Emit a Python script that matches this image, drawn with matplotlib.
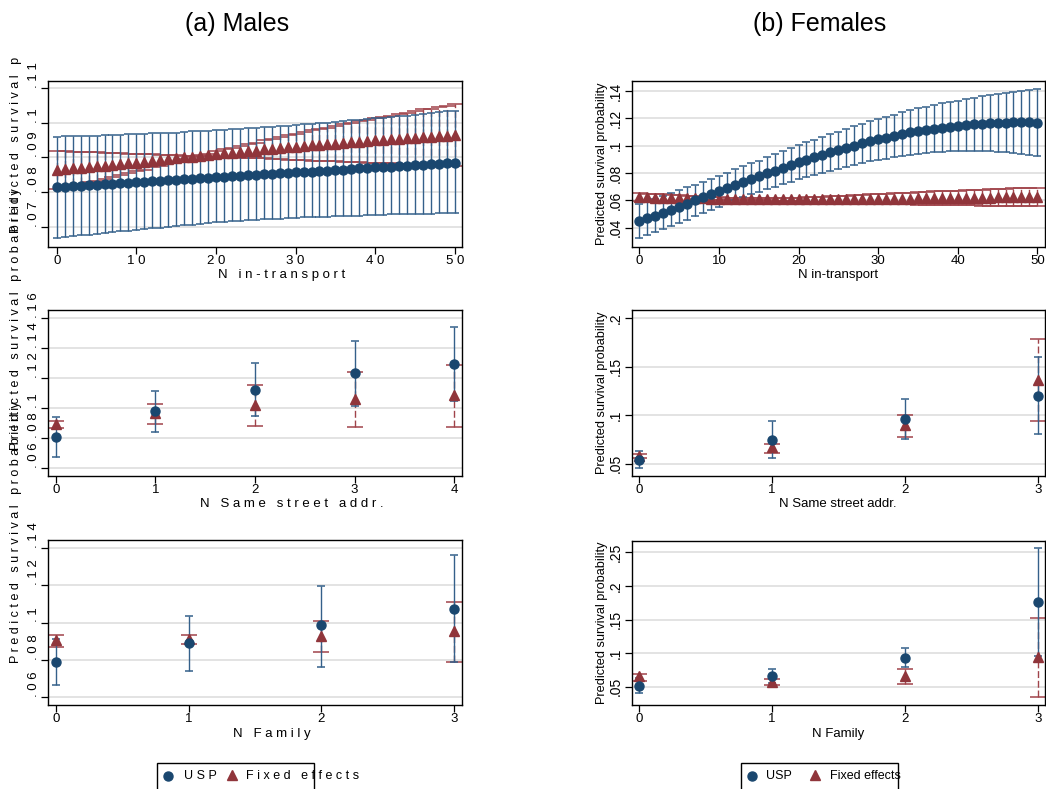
import matplotlib
matplotlib.use('Agg')
import matplotlib.pyplot as plt
from matplotlib.patches import Rectangle
from matplotlib.lines import Line2D
from matplotlib.transforms import Bbox, TransformedBbox

plt.rcParams['font.family'] = ['Liberation Sans', 'DejaVu Sans']

W, H = 1046, 789
USP_C, USP_CI = '#1a476f', '#34608a'
FE_C, FE_CI = '#90353b', '#a0434a'

# ---- Males, N in-transport (0..50)
n_tr = list(range(51))
m_tr_usp = [.0814, .0815, .0817, .0818, .0820, .0821, .0823, .0824, .0825, .0827,
            .0828, .0830, .0831, .0833, .0834, .0835, .0837, .0838, .0840, .0841,
            .0842, .0844, .0845, .0847, .0848, .0850, .0851, .0852, .0854, .0855,
            .0857, .0858, .0859, .0861, .0862, .0864, .0865, .0866, .0868, .0869,
            .0871, .0872, .0873, .0875, .0876, .0878, .0879, .0880, .0882, .0883, .0885]
m_tr_usp_hi = [.0960, .0961, .0961, .0962, .0963, .0963, .0964, .0965, .0966, .0967,
               .0968, .0969, .0970, .0970, .0971, .0972, .0973, .0975, .0976, .0977,
               .0978, .0980, .0981, .0983, .0984, .0986, .0987, .0989, .0990, .0992,
               .0994, .0996, .0997, .0999, .1001, .1003, .1005, .1007, .1009, .1011,
               .1013, .1015, .1017, .1019, .1021, .1023, .1026, .1028, .1030, .1033, .1035]
m_tr_usp_lo = [.0668, .0670, .0672, .0675, .0677, .0679, .0681, .0683, .0686, .0688,
               .0690, .0692, .0695, .0697, .0699, .0701, .0704, .0706, .0708, .0711,
               .0713, .0714, .0716, .0717, .0718, .0720, .0721, .0722, .0723, .0725,
               .0726, .0727, .0728, .0728, .0729, .0730, .0731, .0732, .0732, .0733,
               .0734, .0734, .0735, .0735, .0736, .0736, .0737, .0737, .0738, .0738, .0739]
m_tr_fe = [.0864, .0866, .0868, .0870, .0872, .0874, .0876, .0878, .0880, .0883,
           .0885, .0887, .0890, .0892, .0895, .0897, .0900, .0902, .0905, .0907,
           .0910, .0912, .0914, .0916, .0918, .0920, .0923, .0925, .0927, .0929,
           .0931, .0933, .0935, .0937, .0938, .0940, .0942, .0944, .0945, .0947,
           .0949, .0951, .0952, .0954, .0955, .0957, .0959, .0960, .0962, .0963, .0965]
m_tr_fe_lo = [.0809, .0814, .0819, .0824, .0828, .0833, .0838, .0843, .0848, .0855,
              .0860, .0865, .0871, .0876, .0883, .0888, .0895, .0900, .0903, .0903,
              .0902, .0901, .0900, .0899, .0898, .0897, .0897, .0896, .0895, .0894,
              .0893, .0892, .0891, .0891, .0890, .0889, .0888, .0887, .0886, .0885,
              .0885, .0884, .0883, .0882, .0881, .0880, .0879, .0879, .0878, .0877, .0876]
m_tr_fe_hi = [.0919, .0918, .0917, .0916, .0916, .0915, .0914, .0913, .0912, .0911,
              .0910, .0909, .0909, .0908, .0907, .0906, .0905, .0904, .0907, .0911,
              .0918, .0923, .0928, .0933, .0938, .0943, .0949, .0954, .0959, .0964,
              .0969, .0974, .0979, .0983, .0986, .0991, .0996, .1001, .1004, .1009,
              .1013, .1018, .1021, .1026, .1029, .1034, .1039, .1041, .1046, .1049, .1054]

# ---- Females, N in-transport (0..50)
f_tr_usp = [.0449, .0468, .0489, .0510, .0532, .0554, .0577, .0600, .0623, .0646,
            .0667, .0690, .0713, .0735, .0757, .0776, .0797, .0818, .0838, .0858,
            .0878, .0897, .0916, .0934, .0951, .0968, .0985, .1001, .1017, .1032,
            .1047, .1058, .1072, .1085, .1097, .1107, .1116, .1124, .1132, .1139,
            .1145, .1151, .1156, .1160, .1164, .1167, .1169, .1170, .1170, .1170, .1169]
f_tr_usp_hi = [.0573, .0591, .0611, .0631, .0653, .0674, .0695, .0716, .0737, .0759,
               .0779, .0802, .0826, .0848, .0871, .0891, .0914, .0937, .0959, .0981,
               .1003, .1024, .1045, .1065, .1084, .1103, .1123, .1142, .1161, .1179,
               .1197, .1211, .1228, .1244, .1259, .1272, .1285, .1297, .1309, .1320,
               .1330, .1341, .1351, .1361, .1370, .1379, .1387, .1395, .1401, .1408, .1414]
f_tr_usp_lo = [.0325, .0345, .0367, .0389, .0411, .0434, .0459, .0484, .0509, .0533,
               .0555, .0578, .0600, .0622, .0643, .0661, .0680, .0699, .0717, .0735,
               .0753, .0770, .0787, .0803, .0818, .0833, .0847, .0860, .0873, .0885,
               .0897, .0905, .0916, .0926, .0935, .0942, .0947, .0951, .0955, .0958,
               .0960, .0961, .0961, .0959, .0958, .0955, .0951, .0945, .0939, .0932, .0924]
f_tr_fe = [.0623, .0622, .0621, .0620, .0618, .0617, .0616, .0615, .0614, .0613,
           .0612, .0611, .0610, .0609, .0609, .0608, .0608, .0607, .0607, .0607,
           .0607, .0607, .0607, .0607, .0608, .0608, .0608, .0609, .0609, .0610,
           .0610, .0611, .0612, .0612, .0613, .0614, .0615, .0616, .0616, .0617,
           .0618, .0619, .0620, .0620, .0621, .0622, .0623, .0623, .0624, .0624, .0625]
f_tr_fe_hi = [.0653, .0650, .0647, .0644, .0640, .0637, .0634, .0631, .0628, .0625,
              .0622, .0620, .0618, .0616, .0615, .0614, .0615, .0616, .0617, .0619,
              .0621, .0623, .0625, .0627, .0630, .0632, .0634, .0638, .0640, .0644,
              .0646, .0649, .0652, .0654, .0656, .0659, .0662, .0665, .0667, .0669,
              .0672, .0674, .0677, .0678, .0681, .0683, .0685, .0687, .0689, .0691, .0693]
f_tr_fe_lo = [.0593, .0594, .0595, .0596, .0596, .0597, .0598, .0599, .0600, .0601,
              .0602, .0602, .0602, .0602, .0603, .0602, .0601, .0598, .0597, .0595,
              .0593, .0591, .0589, .0587, .0586, .0584, .0582, .0580, .0578, .0576,
              .0574, .0573, .0572, .0570, .0570, .0569, .0568, .0567, .0565, .0565,
              .0564, .0564, .0563, .0562, .0561, .0561, .0561, .0559, .0559, .0557, .0557]

# ---- N Same street addr.
m_st = [0, 1, 2, 3, 4]
m_st_usp = [.0803, .0980, .1122, .1232, .1294]
m_st_usp_lo = [.0672, .0837, .0948, .1015, .1046]
m_st_usp_hi = [.0937, .1115, .1301, .1450, .1540]
m_st_fe = [.0890, .0964, .1020, .1060, .1087]
m_st_fe_lo = [.0864, .0892, .0879, .0872, .0870]
m_st_fe_hi = [.0911, .1024, .1151, .1243, .1289]

f_st = [0, 1, 2, 3]
f_st_usp = [.0541, .0744, .0962, .1203]
f_st_usp_lo = [.0455, .0555, .0758, .0806]
f_st_usp_hi = [.0630, .0937, .1165, .1596]
f_st_fe = [.0575, .0669, .0903, .1359]
f_st_fe_lo = [.0555, .0614, .0772, .0937]
f_st_fe_hi = [.0596, .0703, .1003, .1789]

# ---- N Family
m_fam = [0, 1, 2, 3]
m_fam_usp = [.0785, .0888, .0985, .1075]
m_fam_usp_lo = [.0663, .0741, .0762, .0785]
m_fam_usp_hi = [.0913, .1037, .1195, .1365]
m_fam_fe = [.0906, .0909, .0927, .0954]
m_fam_fe_lo = [.0867, .0885, .0842, .0786]
m_fam_fe_hi = [.0935, .0935, .1009, .1112]

f_fam = [0, 1, 2, 3]
f_fam_usp = [.0515, .0662, .0926, .1760]
f_fam_usp_lo = [.0401, .0560, .0792, .0955]
f_fam_usp_hi = [.0625, .0762, .1074, .2559]
f_fam_fe = [.0660, .0575, .0660, .0948]
f_fam_fe_lo = [.0590, .0521, .0536, .0342]
f_fam_fe_hi = [.0689, .0615, .0768, .1529]

ylab = 'Predicted survival probability'
legend_labels = ['USP', 'Fixed effects']


def spaced(s):
    return ' '.join(s)


def fmt(v):
    return f'{v:g}'.lstrip('0')


fig = plt.figure(figsize=(W / 100, H / 100), dpi=100)


def ftext(x, y, s, **kw):
    return fig.text(x / W, 1 - y / H, s, **kw)


def px_axes(l, t, r, b):
    return fig.add_axes([l / W, 1 - b / H, (r - l) / W, (b - t) / H])


def draw(ax, x, usp, usp_lo, usp_hi, fe, fe_lo, fe_hi):
    ax.vlines(x, fe_lo, fe_hi, colors=FE_CI, lw=1.0, linestyles=(0, (5, 2)), zorder=2)
    ax.plot(x, fe_lo, ls='none', marker='_', ms=11, mew=1.1, color=FE_CI, zorder=2)
    ax.plot(x, fe_hi, ls='none', marker='_', ms=11, mew=1.1, color=FE_CI, zorder=2)
    ax.vlines(x, usp_lo, usp_hi, colors=USP_CI, lw=1.0, zorder=3)
    ax.plot(x, usp_lo, ls='none', marker='_', ms=5.5, mew=1.1, color=USP_CI, zorder=3)
    ax.plot(x, usp_hi, ls='none', marker='_', ms=5.5, mew=1.1, color=USP_CI, zorder=3)
    ax.plot(x, fe, ls='none', marker='^', ms=7, color=FE_C, mec=FE_C, zorder=4)
    ax.plot(x, usp, ls='none', marker='o', ms=6.5, color=USP_C, mec=USP_C, zorder=5)


def style(ax, xlim, ylim, xticks, yticks, left):
    ax.set_xlim(xlim)
    ax.set_ylim(ylim)
    ax.set_xticks(xticks)
    ax.set_yticks(yticks)
    ax.yaxis.grid(True, color='#e0e0e0', lw=1.3)
    ax.set_axisbelow(True)
    for s in ax.spines.values():
        s.set_linewidth(1.0)
        s.set_color('black')
    ax.tick_params(axis='x', direction='out', length=5, width=0.9, pad=1, labelsize=9.5)
    if left:
        ax.tick_params(axis='y', direction='out', length=5, width=0.9, pad=0.5, labelsize=9.5)
        ax.set_xticklabels([spaced(str(v)) for v in xticks])
        ax.set_yticklabels([spaced(fmt(v)) for v in yticks], rotation=90, va='bottom')
    else:
        ax.tick_params(axis='y', direction='out', length=5, width=0.9, pad=1.5, labelsize=10)
        ax.set_xticklabels([str(v) for v in xticks])
        ax.set_yticklabels([fmt(v) for v in yticks], rotation=90, va='center')


# top row
ax = px_axes(48, 81, 462, 247)
draw(ax, n_tr, m_tr_usp, m_tr_usp_lo, m_tr_usp_hi, m_tr_fe, m_tr_fe_lo, m_tr_fe_hi)
style(ax, (-1.1, 50.9), (.0641, .1121), [0, 10, 20, 30, 40, 50],
      [.07, .08, .09, .10, .11], True)
ax = px_axes(632, 81, 1045, 247)
draw(ax, n_tr, f_tr_usp, f_tr_usp_lo, f_tr_usp_hi, f_tr_fe, f_tr_fe_lo, f_tr_fe_hi)
style(ax, (-0.92, 50.96), (.0259, .1473), [0, 10, 20, 30, 40, 50],
      [.04, .06, .08, .10, .12, .14], False)

# middle row
ax = px_axes(48, 310, 462, 476)
draw(ax, m_st, m_st_usp, m_st_usp_lo, m_st_usp_hi, m_st_fe, m_st_fe_lo, m_st_fe_hi)
style(ax, (-0.08, 4.08), (.0544, .1656), m_st, [.06, .08, .10, .12, .14, .16], True)
ax = px_axes(632, 310, 1045, 476)
draw(ax, f_st, f_st_usp, f_st_usp_lo, f_st_usp_hi, f_st_fe, f_st_fe_lo, f_st_fe_hi)
style(ax, (-0.055, 3.055), (.0372, .2086), f_st, [.05, .10, .15, .20], False)

# bottom row
ax = px_axes(48, 540, 462, 705)
draw(ax, m_fam, m_fam_usp, m_fam_usp_lo, m_fam_usp_hi, m_fam_fe, m_fam_fe_lo, m_fam_fe_hi)
style(ax, (-0.06, 3.06), (.0555, .1445), m_fam, [.06, .08, .10, .12, .14], True)
ax = px_axes(632, 541, 1045, 705)
draw(ax, f_fam, f_fam_usp, f_fam_usp_lo, f_fam_usp_hi, f_fam_fe, f_fam_fe_lo, f_fam_fe_hi)
style(ax, (-0.055, 3.055), (.0228, .2668), f_fam, [.05, .10, .15, .20, .25], False)

# titles
ftext(237, 24, '(a) Males', ha='center', va='center', fontsize=18)
ftext(820, 24, '(b) Females', ha='center', va='center', fontsize=18)

# x axis titles
for y, lx, s in [(275, 218, 'N in-transport'), (504, 200, 'N Same street addr.'),
                 (734, 233, 'N Family')]:
    ftext(lx, y, spaced(s), ha='left', va='center', fontsize=9.5)
    ftext(838, y, s, ha='center', va='center', fontsize=9.5)

# y axis titles
clip = TransformedBbox(Bbox([[0, 0], [1, 1 - 57 / H]]), fig.transFigure)
for y0 in [233, 450, 663]:
    t = ftext(16, y0, spaced(ylab), rotation=90, ha='center', va='bottom', fontsize=9)
    t.set_clip_box(clip)
for yc in [164, 393, 623]:
    ftext(602, yc, ylab, rotation=90, ha='center', va='center', fontsize=9.2)

# legends
for (bx0, bx1, cx, t1, tx, t2, lab) in [(157, 314, 168, 184, 232, 246, True),
                                        (741, 898, 752, 766, 815, 830, False)]:
    fig.add_artist(Rectangle((bx0 / W, 1 - 800 / H), (bx1 - bx0) / W, 37 / H,
                             transform=fig.transFigure, fill=False, ec='black', lw=1.0))
    fig.add_artist(Line2D([cx / W], [1 - 776 / H], marker='o', ms=6.5, color=USP_C,
                          transform=fig.transFigure))
    fig.add_artist(Line2D([tx / W], [1 - 775 / H], marker='^', ms=7, color=FE_C,
                          transform=fig.transFigure))
    l1, l2 = legend_labels
    if lab:
        l1, l2 = spaced(l1), spaced(l2)
    ftext(t1, 776, l1, ha='left', va='center', fontsize=9)
    ftext(t2, 776, l2, ha='left', va='center', fontsize=9)

fig.savefig('out.png', dpi=100)
